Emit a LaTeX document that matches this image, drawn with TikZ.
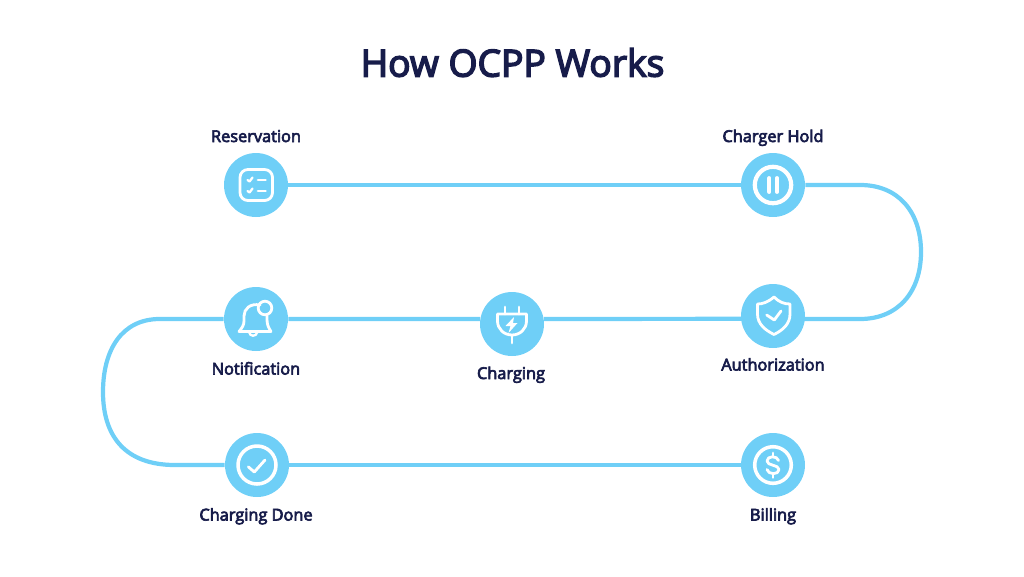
\documentclass[tikz,border=0pt]{standalone}
\usepackage{fontspec}
\setmainfont{Open Sans}
\newfontfamily\stepfont{Open Sans}[FakeBold=4]
\usepackage{tikz}
\definecolor{myflowcolor}{HTML}{6FCFF7}
\definecolor{mytextcolor}{HTML}{171C4A}
\tikzset{
  stepnode/.style={draw=none, fill=myflowcolor, circle, minimum size=1.28cm, inner sep=0pt},
  steplabel/.style={text=mytextcolor, inner sep=0pt, anchor=base, font=\fontsize{9.3pt}{9.3pt}\selectfont\stepfont},
  flowline/.style={draw=myflowcolor, line width=2.4pt},
  iconline/.style={draw=white, line width=1.6pt, line cap=round, line join=round},
}

\begin{document}
\begin{tikzpicture}[x=0.02cm, y=-0.02cm]%
\useasboundingbox (0, 0) rectangle (1024, 576);%
\node[text=mytextcolor, inner sep=0pt, anchor=base] (title) at (512.5, 76.5) {\fontsize{21.2pt}{21.2pt}\selectfont\stepfont How OCPP Works};%
\node[stepnode] (reservation) at (256, 185) {};%
\node[stepnode] (chargerhold) at (773, 185) {};%
\node[stepnode] (authorization) at (773, 316) {};%
\node[stepnode] (charging) at (512, 324) {};%
\node[stepnode] (notification) at (256, 319) {};%
\node[stepnode] (chargingdone) at (257, 465) {};%
\node[stepnode] (billing) at (773, 465) {};%
\node[steplabel] (reservationlabel) at (256, 142) {Reservation};%
\node[steplabel] (chargerholdlabel) at (773, 142) {Charger Hold};%
\node[steplabel] (authorizationlabel) at (773, 370.5) {Authorization};%
\node[steplabel] (charginglabel) at (511, 379) {Charging};%
\node[steplabel] (notificationlabel) at (256, 374.5) {Notification};%
\node[steplabel] (chargingdonelabel) at (256, 520.5) {Charging Done};%
\node[steplabel] (billinglabel) at (773, 520.5) {Billing};%
\coordinate (rightbend) at (921, 252);%
\coordinate (leftbend) at (103, 392);%
\draw[flowline] (reservation.east) -- (chargerhold.west);%
\draw[flowline] (chargerhold.east) -- ++(55, 0) .. controls ++(38, 0) and (921, 212) .. (rightbend) .. controls (921, 292) and (898, 319) .. (860, 319) -- (authorization.185);%
\draw[flowline] (charging.9) -- (authorization.185);%
\draw[flowline] (notification.east) -- (charging.171);%
\draw[flowline] (notification.west) -- ++(-64, 0) .. controls ++(-38, 0) and (103, 350) .. (leftbend) .. controls (103, 436) and (125, 465) .. (175, 465) -- (chargingdone.west);%
\draw[flowline] (chargingdone.east) -- (billing.west);%
% icons
\begin{scope}[shift={(reservation.center)}]%
\draw[iconline, rounded corners=4.5] (-16, -15.5) rectangle (16.5, 15.5);%
\draw[iconline, line width=1.3pt] (-8.5, -5) -- (-6.5, -3.5) -- (-3.5, -7.5);%
\draw[iconline, line width=1.3pt] (-8.5, 6) -- (-6.5, 7.5) -- (-3.5, 3.5);%
\draw[iconline] (2, -5) -- (9.5, -5);%
\draw[iconline] (2, 6) -- (9.5, 6);%
\end{scope}%
\begin{scope}[shift={(chargerhold.center)}]%
\draw[iconline, line width=2.4pt] (0, 0) circle (18.2);%
\draw[iconline, line width=2.2pt] (-3.7, -7) -- (-3.7, 7);%
\draw[iconline, line width=2.2pt] (3.9, -7) -- (3.9, 7);%
\end{scope}%
\begin{scope}[shift={(authorization.center)}]%
\draw[iconline] (1, -19) .. controls (-5, -14) and (-10, -12) .. (-15.5, -12) -- (-15.5, -2) .. controls (-15.5, 8) and (-8, 14) .. (1, 18.5) .. controls (10, 14) and (17, 8) .. (17, -2) -- (17, -12) .. controls (11, -12) and (6, -14) .. (1, -19) -- cycle;%
\draw[iconline] (-6.3, -1) -- (1.3, 4) -- (8, -5);%
\end{scope}%
\begin{scope}[shift={(charging.center)}]%
\draw[iconline] (-7, -17) -- (-7, -10);%
\draw[iconline] (7, -17) -- (7, -10);%
\draw[iconline] (-14.5, -10) -- (14.5, -10) -- (14.5, -3) .. controls (14.5, 5) and (8, 11) .. (0, 11) .. controls (-8, 11) and (-14.5, 5) .. (-14.5, -3) -- cycle;%
\draw[iconline] (0, 11) -- (0, 19);%
\fill[white] (2, -7) -- (-6.5, 2) -- (-1.5, 2) -- (-3.5, 9) -- (5.5, -1) -- (1, -1) -- cycle;%
\end{scope}%
\begin{scope}[shift={(notification.center)}]%
\draw[iconline] (4, -14) .. controls (-6, -16) and (-12, -10) .. (-12, -3) -- (-12, 2) .. controls (-12, 6) and (-14, 9) .. (-17, 12.5) -- (15, 12.5) .. controls (12, 8) and (11, 5) .. (11, 0) -- (11, -3);%
\draw[iconline, line width=1.3pt] (-7, 13) .. controls (-6, 18) and (0, 18) .. (1.5, 13);%
\draw[iconline] (9, -11) circle (6.8);%
\end{scope}%
\begin{scope}[shift={(chargingdone.center)}]%
\draw[iconline, line width=2pt] (0, 0) circle (19);%
\draw[iconline] (-8.7, 1.8) -- (-2.7, 7) -- (8, -5);%
\end{scope}%
\begin{scope}[shift={(billing.center)}]%
\draw[iconline, line width=2pt] (0, 0) circle (18.3);%
\draw[iconline] (5.5, -4.5) .. controls (4.5, -9.5) and (-6, -9.5) .. (-6, -4) .. controls (-6, 1) and (6, -0.5) .. (6, 4.5) .. controls (6, 10) and (-5, 10) .. (-6, 4.5);%
\draw[iconline] (0, -12) -- (0, -8.5);%
\draw[iconline] (0, 9) -- (0, 12.5);%
\end{scope}%
\end{tikzpicture}
\end{document}
